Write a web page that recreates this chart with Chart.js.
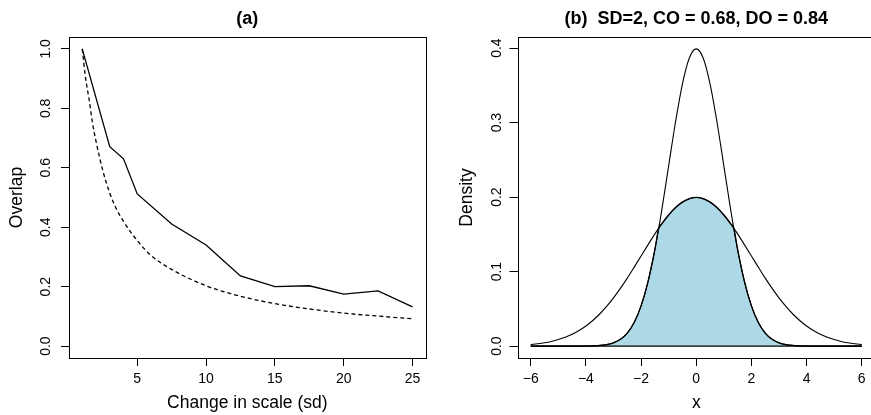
<!DOCTYPE html>
<html><head><meta charset="utf-8">
<script src="https://cdn.jsdelivr.net/npm/chart.js@4"></script>
<style>
html,body{margin:0;padding:0;overflow:hidden;background:#fff;width:871px;height:415px;}
canvas{position:absolute;top:0;}
</style></head><body>
<canvas id="ca" width="435" height="415" style="left:0px"></canvas>
<canvas id="cb" width="445" height="415" style="left:435px"></canvas>
<script>
// ---------- Panel (a) data ----------
const titleA = '(a)';
const xLabelA = 'Change in scale (sd)';
const yLabelA = 'Overlap';
const solidX = [1, 3, 4, 5, 7.5, 10, 12.5, 15, 17.5, 20, 22.5, 25];
const solidY = [1.0, 0.671, 0.630, 0.512, 0.411, 0.340, 0.236, 0.200, 0.203, 0.175, 0.186, 0.132];
const dashX = [1, 1.25, 1.5, 1.75, 2, 2.5, 3, 3.5, 4, 5, 6, 7.5, 10, 12.5, 15, 17.5, 20, 22.5, 25];
const dashY = [1.0, 0.90, 0.83, 0.75, 0.69, 0.59, 0.515, 0.46, 0.42, 0.355, 0.305, 0.258, 0.203, 0.168, 0.143, 0.125, 0.111, 0.101, 0.092];
const xTicksA = [5, 10, 15, 20, 25];
const xTickLabelsA = ['5', '10', '15', '20', '25'];
const yTicksA = [0, 0.2, 0.4, 0.6, 0.8, 1.0];
const yTickLabelsA = ['0.0', '0.2', '0.4', '0.6', '0.8', '1.0'];

// ---------- Panel (b) data ----------
const titleB = '(b)  SD=2, CO = 0.68, DO = 0.84';
const xLabelB = 'x';
const yLabelB = 'Density';
const curveX = [-6,-5.75,-5.5,-5.25,-5,-4.75,-4.5,-4.25,-4,-3.75,-3.5,-3.25,-3,-2.75,-2.5,-2.25,-2,-1.75,-1.5,-1.25,-1,-0.75,-0.5,-0.25,0,
                0.25,0.5,0.75,1,1.25,1.5,1.75,2,2.25,2.5,2.75,3,3.25,3.5,3.75,4,4.25,4.5,4.75,5,5.25,5.5,5.75,6];
const narrowY = [0,0,0,0,0,0,0,0,0.0001,0.0004,0.0009,0.0020,0.0044,0.0091,0.0175,0.0317,0.0540,0.0863,0.1295,0.1826,0.2420,0.3011,0.3521,0.3867,0.3989,
                 0.3867,0.3521,0.3011,0.2420,0.1826,0.1295,0.0863,0.0540,0.0317,0.0175,0.0091,0.0044,0.0020,0.0009,0.0004,0.0001,0,0,0,0,0,0,0,0];
const wideY = [0.0022,0.0032,0.0045,0.0063,0.0088,0.0119,0.0159,0.0209,0.0270,0.0344,0.0431,0.0532,0.0648,0.0775,0.0913,0.1060,0.1210,0.1359,0.1506,0.1641,0.1760,0.1859,0.1933,0.1979,0.1995,
               0.1979,0.1933,0.1859,0.1760,0.1641,0.1506,0.1359,0.1210,0.1060,0.0913,0.0775,0.0648,0.0532,0.0431,0.0344,0.0270,0.0209,0.0159,0.0119,0.0088,0.0063,0.0045,0.0032,0.0022];
const shadeX = [-6,-5.5,-5,-4.5,-4,-3.75,-3.5,-3.25,-3,-2.75,-2.5,-2.25,-2,-1.75,-1.5,-1.36,-1.25,-1,-0.75,-0.5,-0.25,0,
                0.25,0.5,0.75,1,1.25,1.36,1.5,1.75,2,2.25,2.5,2.75,3,3.25,3.5,3.75,4,4.5,5,5.5,6];
const shadeY = [0,0,0,0,0.0001,0.0004,0.0009,0.0020,0.0044,0.0091,0.0175,0.0317,0.0540,0.0863,0.1295,0.1582,0.1641,0.1760,0.1859,0.1933,0.1979,0.1995,
                0.1979,0.1933,0.1859,0.1760,0.1641,0.1582,0.1295,0.0863,0.0540,0.0317,0.0175,0.0091,0.0044,0.0020,0.0009,0.0004,0.0001,0,0,0,0];
const xTicksB = [-6, -4, -2, 0, 2, 4, 6];
const xTickLabelsB = ['\u22126', '\u22124', '\u22122', '0', '2', '4', '6'];
const yTicksB = [0, 0.1, 0.2, 0.3, 0.4];
const yTickLabelsB = ['0.0', '0.1', '0.2', '0.3', '0.4'];

// ---------- helpers ----------
Chart.defaults.font.family = '"Liberation Sans", Arial, Helvetica, sans-serif';
Chart.defaults.color = '#000';
const pts = (xs, ys) => xs.map((x, i) => ({x: x, y: ys[i]}));

const boxPlugin = {
  id: 'plotBox',
  afterDatasetsDraw(chart) {
    const {ctx, chartArea: a} = chart;
    ctx.save();
    ctx.strokeStyle = '#000';
    ctx.lineWidth = 1;
    const l = Math.round(a.left) + 0.5, t = Math.round(a.top) + 0.5;
    ctx.strokeRect(l, t, Math.round(a.right) - Math.round(a.left), Math.round(a.bottom) - Math.round(a.top));
    ctx.restore();
  }
};

function makeOptions(cfg) {
  return {
    responsive: false,
    animation: false,
    devicePixelRatio: 1,
    layout: {padding: {left: 0, right: cfg.padRight, top: 0, bottom: 0}},
    plugins: {
      legend: {display: false},
      tooltip: {enabled: false},
      title: {display: true, text: cfg.title, fullSize: false, color: '#000',
              font: {size: 18, weight: 'bold'}, padding: {top: 8, bottom: 7.4}}
    },
    scales: {
      x: {
        type: 'linear', min: cfg.xMin, max: cfg.xMax,
        afterBuildTicks: s => { s.ticks = cfg.xTicks.map(v => ({value: v})); },
        afterFit: s => { s.height = 57; },
        ticks: {callback: (v, i) => cfg.xTickLabels[i], font: {size: 14}, color: '#000',
                padding: 4.6, maxRotation: 0, minRotation: 0, autoSkip: false},
        grid: {drawOnChartArea: false, drawTicks: true, tickLength: 8, color: '#000', lineWidth: 1},
        border: {display: false},
        title: {display: true, text: cfg.xLabel, font: {size: 17.5}, color: '#000', padding: {top: 0, bottom: 1.5}}
      },
      y: {
        type: 'linear', min: cfg.yMin, max: cfg.yMax,
        afterBuildTicks: s => { s.ticks = cfg.yTicks.map(v => ({value: v})); },
        afterFit: s => { s.width = cfg.yWidth; },
        ticks: {callback: (v, i) => cfg.yTickLabels[i], font: {size: 14}, color: '#000',
                minRotation: 90, maxRotation: 90, crossAlign: 'center', padding: cfg.yTickPad, autoSkip: false},
        grid: {drawOnChartArea: false, drawTicks: true, tickLength: 8, color: '#000', lineWidth: 1},
        border: {display: false},
        title: {display: true, text: cfg.yLabel, font: {size: 17.5}, color: '#000', padding: {top: cfg.yTitlePad, bottom: 0}}
      }
    }
  };
}

// ---------- Chart (a) ----------
new Chart(document.getElementById('ca'), {
  type: 'line',
  data: {
    datasets: [
      {data: pts(solidX, solidY), borderColor: '#000', borderWidth: 1.3, pointRadius: 0, tension: 0, fill: false},
      {data: pts(dashX, dashY), borderColor: '#000', borderWidth: 1.3, borderDash: [4, 3], pointRadius: 0,
       cubicInterpolationMode: 'monotone', fill: false}
    ]
  },
  options: makeOptions({
    title: titleA, padRight: 9.3, xMin: 0.04, xMax: 25.96, yMin: -0.04, yMax: 1.04,
    xTicks: xTicksA, xTickLabels: xTickLabelsA, yTicks: yTicksA, yTickLabels: yTickLabelsA,
    xLabel: xLabelA, yLabel: yLabelA, yWidth: 69, yTickPad: 5.3, yTitlePad: 6.5
  }),
  plugins: [boxPlugin]
});

// ---------- Chart (b) ----------
new Chart(document.getElementById('cb'), {
  type: 'line',
  data: {
    datasets: [
      {data: pts(shadeX, shadeY), borderColor: '#000', borderWidth: 1.3, pointRadius: 0,
       cubicInterpolationMode: 'monotone', fill: 'origin', backgroundColor: '#ADD8E6', order: 3},
      {data: [{x: curveX[0], y: 0}, {x: curveX[curveX.length - 1], y: 0}], borderColor: '#000', borderWidth: 1.3,
       pointRadius: 0, fill: false, order: 2},
      {data: pts(curveX, narrowY), borderColor: '#000', borderWidth: 1.1, pointRadius: 0,
       cubicInterpolationMode: 'monotone', fill: false, order: 1},
      {data: pts(curveX, wideY), borderColor: '#000', borderWidth: 1.1, pointRadius: 0,
       cubicInterpolationMode: 'monotone', fill: false, order: 1}
    ]
  },
  options: makeOptions({
    title: titleB, padRight: 5, xMin: -6.48, xMax: 6.48, yMin: -0.01596, yMax: 0.41486,
    xTicks: xTicksB, xTickLabels: xTickLabelsB, yTicks: yTicksB, yTickLabels: yTickLabelsB,
    xLabel: xLabelB, yLabel: yLabelB, yWidth: 82.5, yTickPad: 2.8, yTitlePad: 21.5
  }),
  plugins: [boxPlugin]
});
</script>
</body></html>
